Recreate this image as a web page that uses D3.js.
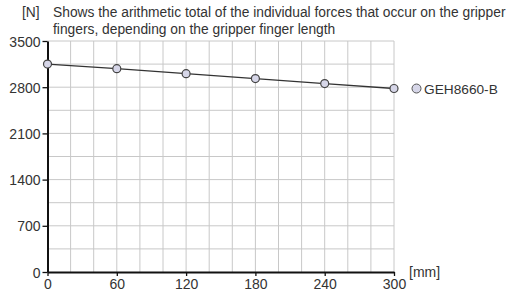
<!DOCTYPE html>
<html>
<head>
<meta charset="utf-8">
<script src="https://cdn.jsdelivr.net/npm/d3@7"></script>
<style>
  body { margin: 0; background: #fff; }
  text { font-family: "Liberation Sans", Arial, sans-serif; fill: #333; }
</style>
</head>
<body>
<svg id="chart" width="510" height="293"></svg>
<script>
// Data
const lengths = [0, 60, 120, 180, 240, 300];
const forces = [3150, 3080, 3005, 2930, 2855, 2780];
const seriesName = 'GEH8660-B';
const yTicks = [0, 700, 1400, 2100, 2800, 3500];
const xTicks = [0, 60, 120, 180, 240, 300];
const titleLines = ['Shows the arithmetic total of the individual forces that occur on the gripper',
                    'fingers, depending on the gripper finger length'];

const svg = d3.select('#chart');
const margin = { left: 47.5, right: 116, top: 41, bottom: 21 };
const width = +svg.attr('width');
const height = +svg.attr('height');

const x = d3.scaleLinear().domain([0, 300]).range([margin.left, width - margin.right]);
const y = d3.scaleLinear().domain([0, 3500]).range([height - margin.bottom, margin.top]);

// Grid
const grid = svg.append('g').attr('stroke', '#c8c8c8').attr('stroke-width', 1);
grid.selectAll('line.v')
    .data(d3.range(20, 301, 20))
    .enter().append('line')
    .attr('x1', d => x(d)).attr('x2', d => x(d))
    .attr('y1', y(0)).attr('y2', y(3500));
grid.selectAll('line.h')
    .data(d3.range(350, 3501, 350))
    .enter().append('line')
    .attr('x1', x(0)).attr('x2', x(300))
    .attr('y1', d => y(d)).attr('y2', d => y(d));

// Axes
const fmt = d3.format('d');
const yAxis = svg.append('g')
    .attr('transform', 'translate(' + x(0) + ',0)')
    .call(d3.axisLeft(y).tickValues(yTicks).tickFormat(fmt).tickSize(5).tickPadding(2).tickSizeOuter(0));
const xAxis = svg.append('g')
    .attr('transform', 'translate(0,' + y(0) + ')')
    .call(d3.axisBottom(x).tickValues(xTicks).tickFormat(fmt).tickSize(4).tickPadding(3).tickSizeOuter(0));

[yAxis, xAxis].forEach(a => {
  a.select('.domain').attr('stroke', '#111').attr('stroke-width', 2);
  a.selectAll('.tick line').attr('stroke', '#111').attr('stroke-width', 1.3);
  a.selectAll('.tick text')
   .style('font-family', '"Liberation Sans", Arial, sans-serif')
   .style('font-size', '14px')
   .attr('fill', '#444');
});
yAxis.selectAll('.tick text').attr('dy', '0.36em');

// Series
const pts = lengths.map((l, i) => [l, forces[i]]);
svg.append('path')
   .datum(pts)
   .attr('fill', 'none')
   .attr('stroke', '#333')
   .attr('stroke-width', 1.3)
   .attr('d', d3.line().x(d => x(d[0])).y(d => y(d[1])));

svg.selectAll('circle.pt')
   .data(pts)
   .enter().append('circle')
   .attr('cx', d => x(d[0]))
   .attr('cy', d => y(d[1]))
   .attr('r', 4)
   .attr('fill', '#d6d6e8')
   .attr('stroke', '#444')
   .attr('stroke-width', 1.2);

// Legend
const lastY = y(forces[forces.length - 1]);
svg.append('circle')
   .attr('cx', 416.5).attr('cy', lastY).attr('r', 4.5)
   .attr('fill', '#d6d6e8').attr('stroke', '#555').attr('stroke-width', 1);
svg.append('text')
   .attr('x', 424).attr('y', lastY + 5)
   .style('font-size', '13.7px')
   .text(seriesName);

// Title and units
svg.append('text')
   .attr('x', 22).attr('y', 17)
   .style('font-size', '13.8px')
   .attr('fill', '#444')
   .text('[N]');
svg.selectAll('text.title')
   .data(titleLines)
   .enter().append('text')
   .attr('x', 53).attr('y', (d, i) => 17 + i * 16.5)
   .style('font-size', '13.8px')
   .text(d => d);
svg.append('text')
   .attr('x', 409).attr('y', 277)
   .style('font-size', '14px')
   .attr('fill', '#444')
   .text('[mm]');
</script>
</body>
</html>
